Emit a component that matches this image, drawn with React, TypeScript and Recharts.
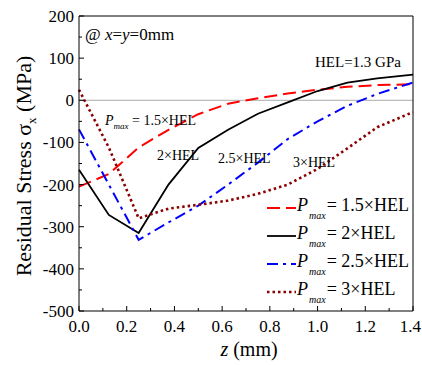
import React from 'react';
import {
  LineChart,
  Line,
  XAxis,
  YAxis,
  ReferenceLine,
  Legend
} from 'recharts';

// depth below the surface (mm)
const depths = [0, 0.125, 0.25, 0.375, 0.5, 0.625, 0.75, 0.875, 1.0, 1.125, 1.25, 1.4];

// residual stress sigma_x (MPa) for each peak pressure
const stress15 = [-205, -175, -112, -70, -33, -8, 5, 16, 25, 32, 36, 38];
const stress2 = [-165, -272, -315, -200, -113, -70, -32, -5, 22, 42, 52, 61];
const stress25 = [-69, null, -331, -290, -250, -200, -148, -92, -50, -13, 15, 42];
const stress3 = [25, -112, -280, -257, -248, -238, -222, -200, -163, -114, -64, -28];

const xTicks = [0, 0.1, 0.2, 0.3, 0.4, 0.5, 0.6, 0.7, 0.8, 0.9, 1.0, 1.1, 1.2, 1.3, 1.4];
const yTicks = [-500, -450, -400, -350, -300, -250, -200, -150, -100, -50, 0, 50, 100, 150, 200];

const legendLabels = ['1.5×HEL', '2×HEL', '2.5×HEL', '3×HEL'];

const FONT = '"Liberation Serif", "Times New Roman", Times, serif';
const W = 422;
const H = 365;
const PLOT_LEFT = 79;
const PLOT_BOTTOM = 311;

const series = [
  { key: 's15', values: stress15, color: '#FF0000', dash: '13 6', width: 2 },
  { key: 's2', values: stress2, color: '#000000', dash: undefined, width: 1.8 },
  { key: 's25', values: stress25, color: '#0000FF', dash: '11 5 3 5', width: 2 },
  { key: 's3', values: stress3, color: '#8B0000', dash: '2.5 3', width: 2.6 }
];

const data = depths.map((z, i) => {
  const row: any = { z };
  series.forEach((s) => {
    row[s.key] = s.values[i];
  });
  return row;
});

const isMajorX = (v: number) => Math.abs(Math.round(v * 10) % 2) === 0;
const textStyle = { fontFamily: FONT };

const XTick = ({ x, payload }: any) => {
  const v = payload.value;
  const major = isMajorX(v);
  // keep the last label inside the page
  const last = v >= 1.4;
  return (
    <g>
      <line x1={x} x2={x} y1={PLOT_BOTTOM} y2={PLOT_BOTTOM - (major ? 5 : 3)} stroke="#000" />
      {major && (
        <text
          x={last ? W - 1 : x}
          y={PLOT_BOTTOM + 21}
          textAnchor={last ? 'end' : 'middle'}
          fontSize={17}
          style={textStyle}
          fill="#000"
        >
          {v.toFixed(1)}
        </text>
      )}
    </g>
  );
};

const YTick = ({ y, payload }: any) => {
  const v = payload.value;
  const major = v % 100 === 0;
  return (
    <g>
      <line x1={PLOT_LEFT} x2={PLOT_LEFT + (major ? 5 : 3)} y1={y} y2={y} stroke="#000" />
      {major && (
        <text x={PLOT_LEFT - 5} y={y + 6} textAnchor="end" fontSize={17} style={textStyle} fill="#000">
          {v}
        </text>
      )}
    </g>
  );
};

const LegendBox = () => (
  <div style={{ fontFamily: FONT, color: '#000' }}>
    {series.map((s, i) => (
      <div key={s.key} style={{ display: 'flex', alignItems: 'center', height: 28 }}>
        <svg width={31} height={28}>
          <line x1={1} x2={30} y1={14} y2={14} stroke={s.color} strokeWidth={s.width} strokeDasharray={s.dash} />
        </svg>
        <span style={{ fontSize: 18, whiteSpace: 'nowrap' }}>
          <i>P</i>
          <i style={{ fontSize: 10, verticalAlign: -8, marginLeft: 1 }}>max</i>
          <span style={{ marginLeft: 1 }}>= {legendLabels[i]}</span>
        </span>
      </div>
    ))}
  </div>
);

export default function App() {
  return (
    <div style={{ position: 'absolute', left: 0, top: 0, width: W, height: H, background: '#fff' }}>
      <LineChart width={W} height={H} data={data} margin={{ top: 16, right: 9, bottom: 14, left: 19 }}>
        <XAxis
          dataKey="z"
          type="number"
          domain={[0, 1.4]}
          ticks={xTicks}
          tick={<XTick />}
          tickLine={false}
          axisLine={{ stroke: '#000' }}
          height={40}
          interval={0}
        />
        <YAxis
          type="number"
          domain={[-500, 200]}
          ticks={yTicks}
          tick={<YTick />}
          tickLine={false}
          axisLine={{ stroke: '#000' }}
          width={60}
          interval={0}
        />
        <ReferenceLine y={0} stroke="#aaaaaa" strokeWidth={1} />
        <ReferenceLine y={200} stroke="#000" strokeWidth={1} />
        <ReferenceLine x={1.4} stroke="#000" strokeWidth={1} />
        {series.map((s) => (
          <Line
            key={s.key}
            dataKey={s.key}
            type="linear"
            stroke={s.color}
            strokeWidth={s.width}
            strokeDasharray={s.dash}
            dot={false}
            activeDot={false}
            connectNulls
            isAnimationActive={false}
          />
        ))}
        <Legend
          layout="vertical"
          align="center"
          verticalAlign="middle"
          content={<LegendBox />}
          wrapperStyle={{ position: 'absolute', left: 266, top: 194, width: 156, bottom: 'auto', right: 'auto' }}
        />
      </LineChart>
      <svg
        width={W}
        height={H}
        style={{ position: 'absolute', left: 0, top: 0, pointerEvents: 'none', fontFamily: FONT }}
      >
        <text transform="translate(31,166) rotate(-90)" textAnchor="middle" fontSize={22} fill="#000">
          Residual Stress σ<tspan fontSize={13} dy={5}>x</tspan>
          <tspan dy={-5}> (MPa)</tspan>
        </text>
        <text x={249} y={356} textAnchor="middle" fontSize={20} fill="#000">
          <tspan fontStyle="italic">z</tspan> (mm)
        </text>
        <text x={85} y={40} fontSize={17} fill="#000">
          @ <tspan fontStyle="italic">x</tspan>=<tspan fontStyle="italic">y</tspan>=0mm
        </text>
        <text x={315} y={67} fontSize={15} fill="#000">HEL=1.3 GPa</text>
        <text x={105} y={125} fontSize={14} fill="#000">
          <tspan fontStyle="italic">P</tspan>
          <tspan fontSize={9} fontStyle="italic" dy={4}>max</tspan>
          <tspan dy={-4}> = 1.5×HEL</tspan>
        </text>
        <text x={157} y={160} fontSize={14} fill="#000">2×HEL</text>
        <text x={218} y={163} fontSize={14} fill="#000">2.5×HEL</text>
        <text x={293} y={167} fontSize={14} fill="#000">3×HEL</text>
      </svg>
    </div>
  );
}
